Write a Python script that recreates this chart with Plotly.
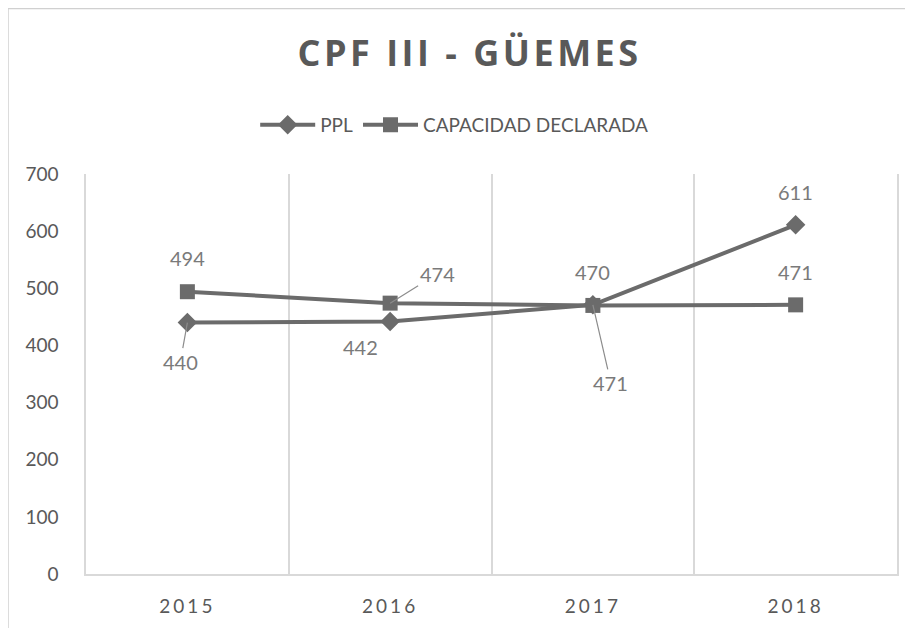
import plotly.graph_objects as go

years = ["2015", "2016", "2017", "2018"]
ppl = [440, 442, 471, 611]
capacidad = [494, 474, 470, 471]
y_ticks = [0, 100, 200, 300, 400, 500, 600, 700]

line_col = "#6b6b6b"
txt_col = "#595959"
lbl_col = "#7a7a7a"
grid_col = "#d9d9d9"

fig = go.Figure()
fig.add_trace(go.Scatter(
    x=years, y=ppl, name="PPL", mode="lines+markers",
    line=dict(color=line_col, width=4),
    marker=dict(symbol="diamond", size=15, color=line_col),
))
fig.add_trace(go.Scatter(
    x=years, y=capacidad, name="CAPACIDAD DECLARADA", mode="lines+markers",
    line=dict(color=line_col, width=4),
    marker=dict(symbol="square", size=15, color=line_col),
))

# label placement in pixels: (dx, dy, leader line)
ppl_offsets = [(-7, 39, True), (-30, 26, False), (18, 78, True), (0, -33, False)]
cap_offsets = [(0, -34, False), (47, -29, True), (0, -33, False), (0, -33, False)]

lbl_font = dict(family="Lato, sans-serif", size=20, color=lbl_col)

def add_labels(values, offsets):
    for i, (yv, (dx, dy, leader)) in enumerate(zip(values, offsets)):
        if leader:
            fig.add_annotation(
                x=i, y=yv, xref="x", yref="y", text=str(yv),
                showarrow=True, ax=dx, ay=dy, axref="pixel", ayref="pixel",
                arrowhead=0, arrowwidth=1.2, arrowcolor="#8c8c8c",
                standoff=0, font=lbl_font,
            )
        else:
            fig.add_annotation(
                x=i, y=yv, xref="x", yref="y", text=str(yv),
                showarrow=False, xshift=dx, yshift=-dy, font=lbl_font,
            )

add_labels(ppl, ppl_offsets)
add_labels(capacidad, cap_offsets)

spaced_years = [f"<span style='letter-spacing:3px'>{y}</span>" for y in years]

fig.update_layout(
    width=905, height=620,
    margin=dict(l=78, r=16, t=166, b=54),
    paper_bgcolor="white", plot_bgcolor="white",
    title=dict(text="<b><span style='letter-spacing:3.5px'>CPF III - GÜEMES</span></b>",
               x=0.51, xanchor="center", y=0.926, yanchor="middle",
               font=dict(family="Open Sans, sans-serif", size=36, color=txt_col)),
    legend=dict(orientation="h", x=0.454, xanchor="center", y=1.1225, yanchor="middle",
                font=dict(family="Lato, sans-serif", size=19, color=txt_col),
                traceorder="normal", itemwidth=55),
    xaxis=dict(type="category", range=[-0.5, 3.5], tickson="boundaries",
               tickvals=years, ticktext=spaced_years,
               showgrid=True, gridcolor=grid_col, gridwidth=1.5,
               showline=True, linecolor=grid_col, linewidth=1.5,
               ticks="", ticklabelstandoff=14,
               tickfont=dict(family="Lato, sans-serif", size=19, color=txt_col)),
    yaxis=dict(range=[0, 700], tickvals=y_ticks, showgrid=False, zeroline=False,
               showline=True, mirror=True, linecolor=grid_col, linewidth=1.5,
               ticks="", ticklabelstandoff=22,
               tickfont=dict(family="Lato, sans-serif", size=19, color=txt_col)),
)
# chart-area border (left and top edges of the frame)
fig.add_shape(type="line", xref="paper", yref="paper",
              x0=-78/811, x1=-78/811, y0=-0.2, y1=1 + 166/400,
              line=dict(color="#d0d0d0", width=1.5))
fig.add_shape(type="line", xref="paper", yref="paper",
              x0=-78/811, x1=1.03, y0=1 + 165.5/400, y1=1 + 165.5/400,
              line=dict(color="#d0d0d0", width=1.5))

fig.write_html("out.html")
